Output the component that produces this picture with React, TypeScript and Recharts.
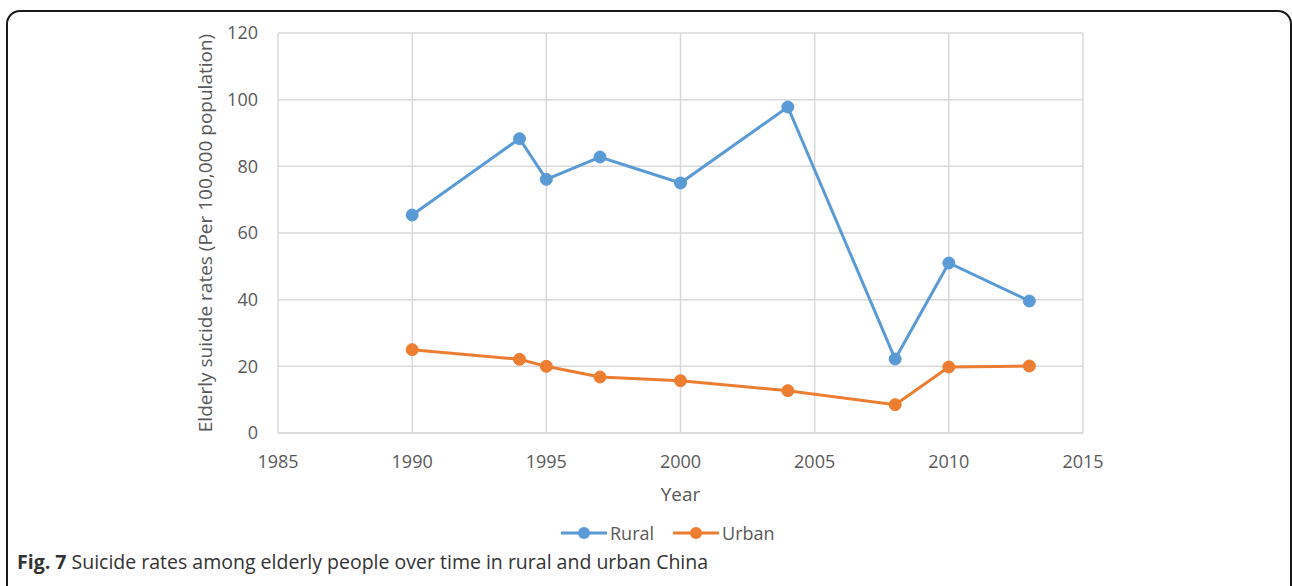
import { LineChart, Line, XAxis, YAxis, CartesianGrid } from 'recharts'

const years = [1990, 1994, 1995, 1997, 2000, 2004, 2008, 2010, 2013]
const rural = [65.4, 88.3, 76.1, 82.8, 75, 97.8, 22.2, 51, 39.6]
const urban = [25, 22.1, 20, 16.8, 15.7, 12.7, 8.5, 19.8, 20.1]
const xTicks = [1985, 1990, 1995, 2000, 2005, 2010, 2015]
const yTicks = [0, 20, 40, 60, 80, 100, 120]

const series = [
  { key: 'rural', name: 'Rural', color: '#5b9bd5' },
  { key: 'urban', name: 'Urban', color: '#ed7d31' },
]

const data = years.map((year, i) => ({ year, rural: rural[i], urban: urban[i] }))

const FONT = '"Open Sans", sans-serif'
const GREY = '#595959'

function LegendItem({ name, color }: { name: string; color: string }) {
  return (
    <div style={{ display: 'flex', alignItems: 'center', marginRight: 19 }}>
      <svg width={46} height={14}>
        <line x1={0} y1={7} x2={46} y2={7} stroke={color} strokeWidth={3} />
        <circle cx={23} cy={7} r={6} fill={color} />
      </svg>
      <span style={{ marginLeft: 3, fontSize: 18, color: GREY }}>{name}</span>
    </div>
  )
}

export default function App() {
  return (
    <div
      style={{
        position: 'fixed',
        left: 0,
        top: 0,
        width: 1292,
        height: 586,
        background: '#fff',
        overflow: 'hidden',
        fontFamily: FONT,
      }}
    >
      <div
        style={{
          position: 'absolute',
          left: 6,
          top: 10,
          width: 1282,
          height: 600,
          border: '2px solid #1a1a1a',
          borderRadius: 14,
        }}
      />
      <div style={{ position: 'absolute', left: 0, top: 0 }}>
        <LineChart
          width={1292}
          height={520}
          data={data}
          margin={{ top: 33, right: 209, left: 0, bottom: 17 }}
        >
          <CartesianGrid stroke="#d9d9d9" strokeWidth={1.5} />
          <XAxis
            dataKey="year"
            type="number"
            domain={[1985, 2015]}
            ticks={xTicks}
            axisLine={{ stroke: '#d9d9d9', strokeWidth: 1.5 }}
            tickLine={false}
            tickSize={0}
            tickMargin={22}
            height={70}
            tick={{ fontSize: 18, fill: GREY, fontFamily: FONT }}
            label={{
              value: 'Year',
              position: 'insideBottom',
              offset: 2,
              fontSize: 19,
              fill: GREY,
              fontFamily: FONT,
            }}
          />
          <YAxis
            domain={[0, 120]}
            ticks={yTicks}
            width={278}
            axisLine={false}
            tickLine={false}
            tickSize={0}
            tickMargin={20}
            tick={{ fontSize: 18, fill: GREY, fontFamily: FONT }}
            label={{
              value: 'Elderly suicide rates (Per 100,000 population)',
              angle: -90,
              position: 'center',
              dx: 66,
              fontSize: 19,
              fill: GREY,
              fontFamily: FONT,
            }}
          />
          {series.map((s) => (
            <Line
              key={s.key}
              dataKey={s.key}
              name={s.name}
              stroke={s.color}
              strokeWidth={3}
              dot={{ r: 6, fill: s.color, stroke: s.color, strokeWidth: 1 }}
              isAnimationActive={false}
            />
          ))}
        </LineChart>
      </div>
      <div
        style={{
          position: 'absolute',
          left: 561,
          top: 521,
          display: 'flex',
        }}
      >
        {series.map((s) => (
          <LegendItem key={s.key} name={s.name} color={s.color} />
        ))}
      </div>
      <div
        style={{
          position: 'absolute',
          left: 17,
          top: 548,
          fontSize: 19.5,
          color: '#333',
          whiteSpace: 'nowrap',
        }}
      >
        <b>Fig. 7</b> Suicide rates among elderly people over time in rural and urban China
      </div>
    </div>
  )
}
